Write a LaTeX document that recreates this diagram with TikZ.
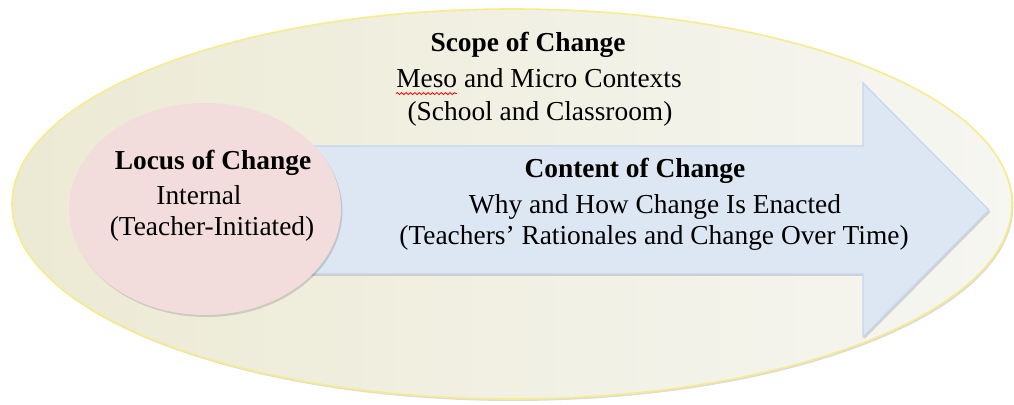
\documentclass[tikz,border=0pt]{standalone}
\usepackage{fontspec}
\setmainfont{Liberation Serif}
\usetikzlibrary{shadows, decorations.pathmorphing}

\definecolor{scopefill}{RGB}{236,234,212}
\definecolor{scopelight}{RGB}{246,246,242}
\definecolor{scopeedge}{RGB}{246,236,140}
\definecolor{locusfill}{RGB}{242,221,220}
\definecolor{contentfill}{RGB}{221,231,243}
\definecolor{contentedge}{RGB}{198,214,236}

\begin{document}
\begin{tikzpicture}[x=0.5pt, y=-0.5pt,
    lbl/.style={anchor=base, inner sep=0pt, font=\fontsize{13.7}{16}\selectfont},
    hd/.style={lbl, font=\fontsize{13.7}{16}\selectfont\bfseries},
    soft/.style={drop shadow={shadow xshift=0.7pt, shadow yshift=-1pt, opacity=0.14, fill=black}}]
  \useasboundingbox[fill=white] (0,0) rectangle (1014,405);

  % outer scope ellipse
  \draw[scopeedge, line width=0.8pt, left color=scopefill, right color=scopelight, soft]
    (512,204) ellipse [x radius=250pt, y radius=97.5pt];

  % content arrow
  \draw[contentedge, fill=contentfill, line width=0.6pt, soft]
    (310,146) -- (863,146) -- (863,83) -- (989,210) -- (863,337) -- (863,274) -- (310,274) -- cycle;

  % locus ellipse
  \fill[locusfill, soft] (205,209) ellipse [x radius=68pt, y radius=53pt];

  \node[hd] (scope) at (528,52) {Scope of Change};
  \node[lbl] (meso) at (539,88) {Meso and Micro Contexts};
  \node[lbl] (school) at (540,121) {(School and Classroom)};
  \draw[red, line width=0.4pt, decorate, decoration={snake, amplitude=0.5pt, segment length=2.2pt}]
    ([yshift=-2.8pt]meso.base west) -- ++(30.5pt,0);

  \node[hd] (locus) at (213,170) {Locus of Change};
  \node[lbl] (internal) at (199,205) {Internal};
  \node[lbl] (initiator) at (212,236) {(Teacher-Initiated)};

  \node[hd] (content) at (635,178) {Content of Change};
  \node[lbl] (how) at (655,214) {Why and How Change Is Enacted};
  \node[lbl] (rationale) at (654,245) {(Teachers’ Rationales and Change Over Time)};
\end{tikzpicture}
\end{document}
